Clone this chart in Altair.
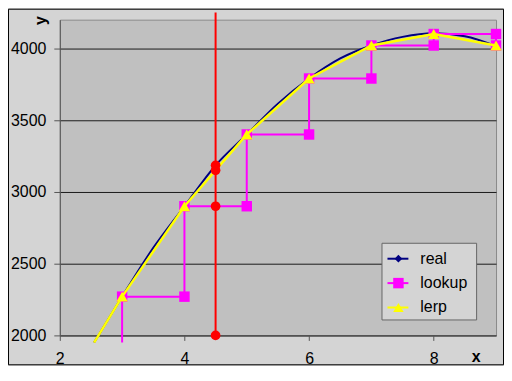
import altair as alt
import pandas as pd

# ---- data ----
lerp_x = [2.55, 3, 4, 5, 6, 7, 8, 9]
lerp_y = [1950, 2270, 2900, 3400, 3790, 4020, 4100, 4020]
lerp_marker = [False, True, True, True, True, True, True, True]

real_x = [2.55, 3, 3.5, 4, 4.5, 5, 5.5, 6, 6.5, 7, 7.5, 8, 8.5, 9]
real_y = [1950, 2270, 2610, 2900, 3185, 3400, 3615, 3790, 3930, 4020, 4080, 4105, 4085, 4015]

lookup_x = [3, 3, 4, 4, 5, 5, 6, 6, 7, 7, 8, 8, 9, 9]
lookup_y = [1950, 2270, 2270, 2900, 2900, 3400, 3400, 3790, 3790, 4020, 4020, 4100, 4100, 4020]
lookup_marker = [False] + [True] * 13

probe_line_x = [4.5, 4.5]
probe_line_y = [2000, 4250]
probe_pts_x = [4.5, 4.5, 4.5, 4.5]
probe_pts_y = [2000, 2900, 3150, 3185]

x_ticks = [2, 4, 6, 8]
y_ticks = [2000, 2500, 3000, 3500, 4000]
legend_names = ["real", "lookup", "lerp"]

FONT = "Liberation Sans"

real_df = pd.DataFrame({"x": real_x, "y": real_y, "o": range(len(real_x))})
lerp_df = pd.DataFrame({"x": lerp_x, "y": lerp_y, "m": lerp_marker, "o": range(len(lerp_x))})
lookup_df = pd.DataFrame({"x": lookup_x, "y": lookup_y, "m": lookup_marker, "o": range(len(lookup_x))})
pline_df = pd.DataFrame({"x": probe_line_x, "y": probe_line_y})
ppts_df = pd.DataFrame({"x": probe_pts_x, "y": probe_pts_y})

xs = alt.Scale(domain=[2, 9], nice=False, zero=False)
ys = alt.Scale(domain=[2000, 4200], nice=False, zero=False)

X = alt.X("x:Q", scale=xs, axis=alt.Axis(values=x_ticks, title=None, grid=False, format="d",
                                          labelFlush=False,
                                          tickSize=5, labelPadding=10, domainColor="#555555",
                                          tickColor="#555555", labelFont=FONT, labelFontSize=16,
                                          labelColor="black"))
Y = alt.Y("y:Q", scale=ys, axis=alt.Axis(values=y_ticks, title=None, grid=True, gridColor="#1a1a1a",
                                          gridWidth=1, tickSize=6, labelPadding=8, format="d",
                                          labelFlush=False,
                                          domainColor="#555555", tickColor="#555555",
                                          labelFont=FONT, labelFontSize=16, labelColor="black"))

one = alt.Data(values=[{}])

frame = alt.Chart(one).mark_rect(fill="transparent", stroke="black", strokeWidth=1).encode(
    x=alt.value(-51.5), x2=alt.value(445.5), y=alt.value(-10.5), y2=alt.value(346.5))

real_line = alt.Chart(real_df).mark_line(color="#000080", strokeWidth=2, interpolate="monotone").encode(
    x=X, y=Y, order="o:Q")

lookup_line = alt.Chart(lookup_df).mark_line(color="#FF00FF", strokeWidth=2).encode(
    x=X, y=Y, order="o:Q")
lookup_pts = alt.Chart(lookup_df).transform_filter("datum.m").mark_point(
    shape="square", filled=True, color="#FF00FF", size=110, opacity=1).encode(x=X, y=Y)

lerp_line = alt.Chart(lerp_df).mark_line(color="#FFFF00", strokeWidth=2.5).encode(
    x=X, y=Y, order="o:Q")
lerp_pts = alt.Chart(lerp_df).transform_filter("datum.m").mark_point(
    shape="triangle-up", filled=True, color="#FFFF00", size=130, opacity=1).encode(x=X, y=Y)

probe_line = alt.Chart(pline_df).mark_line(color="#FF0000", strokeWidth=2).encode(x=X, y=Y)
probe_pts = alt.Chart(ppts_df).mark_point(shape="circle", filled=True, color="#FF0000",
                                           size=95, opacity=1).encode(x=X, y=Y)

ytitle = alt.Chart(one).mark_text(text="y", font=FONT, fontSize=16, fontWeight="bold",
                                   angle=270, align="center", baseline="middle").encode(
    x=alt.value(-19), y=alt.value(1))
xtitle = alt.Chart(one).mark_text(text="x", font=FONT, fontSize=16, fontWeight="bold",
                                   align="center", baseline="middle").encode(
    x=alt.value(418), y=alt.value(339))

# legend
leg_layers = [alt.Chart(one).mark_rect(fill="#D4D4D4", stroke="#666666", strokeWidth=1).encode(
    x=alt.value(323.5), x2=alt.value(418.5), y=alt.value(224.5), y2=alt.value(301.5))]
leg_colors = ["#000080", "#FF00FF", "#FFFF00"]
leg_shapes = ["diamond", "square", "triangle-up"]
leg_sizes = [60, 110, 110]
for i, name in enumerate(legend_names):
    yy = 240 + i * 24.5
    leg_layers.append(alt.Chart(one).mark_rule(color=leg_colors[i], strokeWidth=2).encode(
        x=alt.value(329), x2=alt.value(350), y=alt.value(yy)))
    leg_layers.append(alt.Chart(one).mark_point(shape=leg_shapes[i], filled=True, opacity=1,
                                                 color=leg_colors[i], size=leg_sizes[i]).encode(
        x=alt.value(340), y=alt.value(yy)))
    leg_layers.append(alt.Chart(one).mark_text(text=name, font=FONT, fontSize=16, align="left",
                                                baseline="middle", color="black").encode(
        x=alt.value(362), y=alt.value(yy)))

chart = alt.layer(
    frame, real_line, lookup_line, lookup_pts, lerp_line, lerp_pts,
    probe_line, probe_pts, ytitle, xtitle, *leg_layers
).properties(
    width=438, height=317,
    padding={"left": 52, "top": 11, "right": 8, "bottom": 30},
    autosize=alt.AutoSizeParams(type="none"),
    background="#D4D4D4",
).configure_view(stroke="#8a8a8a", fill="#C0C0C0")

chart.save("out.html", embed_options={"renderer": "svg", "actions": False})
